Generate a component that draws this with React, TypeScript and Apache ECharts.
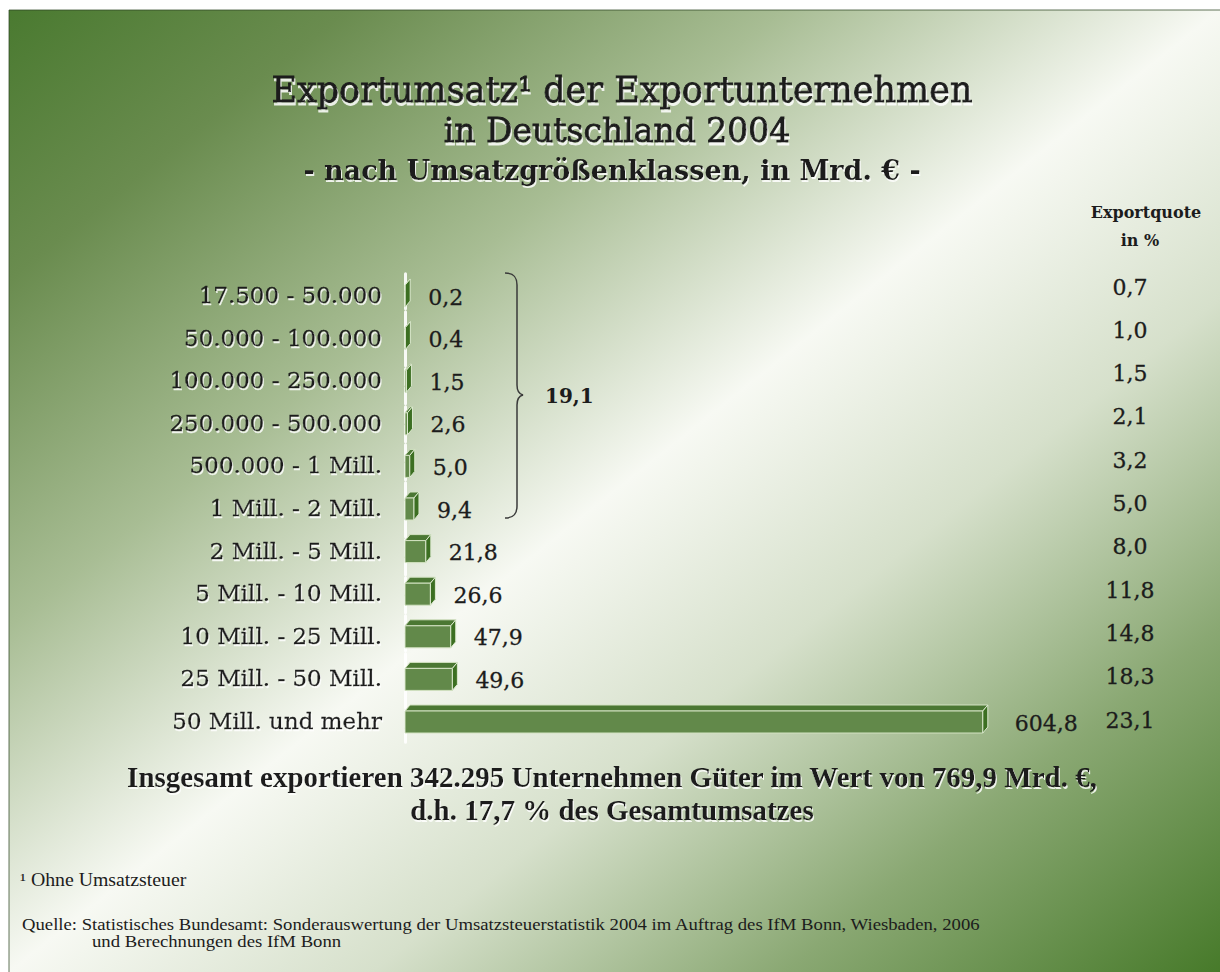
import React, { useEffect, useRef } from "react";
import * as echarts from "echarts";

// ---------- data ----------
const categories = [
  "17.500 - 50.000",
  "50.000 - 100.000",
  "100.000 - 250.000",
  "250.000 - 500.000",
  "500.000 - 1 Mill.",
  "1 Mill. - 2 Mill.",
  "2 Mill. - 5 Mill.",
  "5 Mill. - 10 Mill.",
  "10 Mill. - 25 Mill.",
  "25 Mill. - 50 Mill.",
  "50 Mill. und mehr",
];
const exportValues = [0.2, 0.4, 1.5, 2.6, 5.0, 9.4, 21.8, 26.6, 47.9, 49.6, 604.8];
const exportQuote = [0.7, 1.0, 1.5, 2.1, 3.2, 5.0, 8.0, 11.8, 14.8, 18.3, 23.1];
const bracketCount = 6;

const titleLines = ["Exportumsatz¹ der Exportunternehmen", "in Deutschland 2004"];
const subtitle = "- nach Umsatzgrößenklassen, in Mrd. € -";
const quoteHeader = ["Exportquote", "in %"];
const summaryLines = [
  "Insgesamt exportieren 342.295 Unternehmen Güter im Wert von 769,9 Mrd. €,",
  "d.h. 17,7 % des Gesamtumsatzes",
];
const footnote = "¹ Ohne Umsatzsteuer";
const sourceLines = [
  "Quelle: Statistisches Bundesamt: Sonderauswertung der Umsatzsteuerstatistik 2004 im Auftrag des IfM Bonn, Wiesbaden, 2006",
  "und Berechnungen des IfM Bonn",
];

const fmt = (v: number) => v.toFixed(1).replace(".", ",");

const SERIF = '"DejaVu Serif", serif';
const TIMES = '"Liberation Serif", serif';

echarts.graphic.registerShape(
  "brace",
  echarts.graphic.extendPath(
    "M0,0 C8,0 12,3 12,12 L12,112 C12,118 14,121 18,122 C14,123 12,126 12,132 L12,233 C12,242 8,245 0,245",
    {}
  ) as any
);

export default function App() {
  const ref = useRef<HTMLDivElement>(null);
  useEffect(() => {
    document.body.style.margin = "0";
    document.body.style.overflow = "hidden";
    const chart = echarts.init(ref.current!, null, { renderer: "svg" });

    const W = 1211, H = 962, ox = 9, oy = 10;
    const k = (W * H) / (W * W + H * H);
    const cx = ox + W / 2, cy = oy + H / 2;
    const bg = new echarts.graphic.LinearGradient(
      cx - k * H, cy - k * W, cx + k * H, cy + k * W,
      [
        { offset: 0, color: "#4a7a30" },
        { offset: 0.14, color: "#6a8c4f" },
        { offset: 0.32, color: "#a8bd94" },
        { offset: 0.5, color: "#f7f9f3" },
        { offset: 0.65, color: "#d6e0cb" },
        { offset: 0.82, color: "#8aa873" },
        { offset: 1, color: "#477a2a" },
      ],
      true
    );

    const sum = exportValues.slice(0, bracketCount).reduce((a, b) => a + b, 0);
    const shadow = {
      textShadowColor: "rgba(255,255,255,0.85)",
      textShadowOffsetX: 1,
      textShadowOffsetY: 2,
      textShadowBlur: 1,
    };
    const ink = "#1c1c1c";

    const option: any = {
      animation: false,
      grid: [
        { left: 405, top: 273.7, width: 578, height: 468.6 },
        { left: 405, top: 265.4, width: 578, height: 476.3 },
      ],
      xAxis: [
        { type: "value", gridIndex: 0, min: 0, max: 605, show: false },
        { type: "value", gridIndex: 1, min: 0, max: 605, show: false },
      ],
      yAxis: [
        {
          type: "category",
          gridIndex: 0,
          data: categories,
          inverse: true,
          axisLine: { show: true, lineStyle: { color: "rgba(255,255,255,0.9)", width: 3, type: [16, 3] } },
          axisTick: { show: false },
          splitLine: { show: false },
          axisLabel: {
            margin: 23,
            fontFamily: SERIF,
            fontSize: 23,
            color: ink,
            textBorderColor: ink,
            textBorderWidth: 0.3,
            ...shadow,
          },
        },
        {
          type: "category",
          gridIndex: 1,
          position: "right",
          data: exportQuote.map(fmt),
          inverse: true,
          axisLine: { show: false },
          axisTick: { show: false },
          splitLine: { show: false },
          axisLabel: {
            margin: 147,
            align: "center",
            fontFamily: SERIF,
            fontSize: 22,
            color: ink,
            textBorderColor: ink,
            textBorderWidth: 0.3,
          },
        },
      ],
      series: [
        {
          type: "custom",
          xAxisIndex: 0,
          yAxisIndex: 0,
          data: exportValues.map((v, i) => [v, i]),
          encode: { x: 0, y: 1 },
          z: 5,
          renderItem: (params: any, api: any) => {
            const v = api.value(0);
            const idx = api.value(1);
            const p0 = api.coord([0, idx]);
            const p1 = api.coord([v, idx]);
            const x0 = p0[0];
            const x1 = p1[0];
            const yc = p0[1];
            const dx = 5, dy = 6, h = 22;
            const top = yc - 10;
            return {
              type: "group",
              children: [
                {
                  type: "polygon",
                  shape: { points: [[x0, top], [x0 + dx, top - dy], [x1 + dx, top - dy], [x1, top]] },
                  style: { fill: "#4b7733", stroke: "#d3e2c2", lineWidth: 1 },
                },
                {
                  type: "rect",
                  shape: { x: x0, y: top, width: x1 - x0, height: h },
                  style: { fill: "#62894a", stroke: "#d3e2c2", lineWidth: 1 },
                },
                {
                  type: "polygon",
                  shape: { points: [[x1, top], [x1 + dx, top - dy], [x1 + dx, top + h - dy], [x1, top + h]] },
                  style: { fill: "#3c6f22", stroke: "#dce9cf", lineWidth: 1 },
                },
                {
                  type: "text",
                  style: {
                    text: fmt(v),
                    x: x1 + dx + (v > 100 ? 27 : 18),
                    y: yc + 2,
                    fill: ink,
                    stroke: ink,
                    lineWidth: 0.3,
                    font: `22px ${SERIF}`,
                    verticalAlign: "middle",
                    align: "left",
                  },
                },
              ],
            };
          },
        },
      ],
      graphic: [
        {
          type: "rect",
          z: -10,
          shape: { x: ox, y: oy, width: W + 2, height: H + 2 },
          style: { fill: bg, stroke: "rgba(45,70,35,0.75)", lineWidth: 1 },
        },
        {
          type: "text",
          z: 10,
          x: 622,
          y: 90,
          style: {
            text: titleLines[0],
            font: `35px ${SERIF}`,
            fill: ink,
            stroke: ink,
            lineWidth: 0.8,
            align: "center",
            verticalAlign: "middle",
            ...shadow,
            textShadowOffsetY: 3,
          },
        },
        {
          type: "text",
          z: 10,
          x: 617,
          y: 130,
          style: {
            text: titleLines[1],
            font: `33px ${SERIF}`,
            fill: ink,
            stroke: ink,
            lineWidth: 0.8,
            align: "center",
            verticalAlign: "middle",
            ...shadow,
            textShadowOffsetY: 3,
          },
        },
        {
          type: "text",
          z: 10,
          x: 612,
          y: 170,
          style: {
            text: subtitle,
            font: `bold 27px ${SERIF}`,
            fill: ink,
            align: "center",
            verticalAlign: "middle",
            ...shadow,
          },
        },
        {
          type: "text",
          z: 10,
          x: 1146,
          y: 212,
          style: {
            text: quoteHeader[0],
            font: `bold 16px ${SERIF}`,
            fill: ink,
            align: "center",
            verticalAlign: "middle",
          },
        },
        {
          type: "text",
          z: 10,
          x: 1140,
          y: 240,
          style: {
            text: quoteHeader[1],
            font: `bold 16px ${SERIF}`,
            fill: ink,
            align: "center",
            verticalAlign: "middle",
          },
        },
        {
          type: "brace",
          z: 10,
          x: 505,
          y: 273,
          style: { fill: "none", stroke: "#3a3a3a", lineWidth: 1.5 },
        },
        {
          type: "text",
          z: 10,
          x: 545,
          y: 396,
          style: {
            text: fmt(sum),
            font: `bold 20px ${SERIF}`,
            fill: ink,
            align: "left",
            verticalAlign: "middle",
          },
        },
        {
          type: "text",
          z: 10,
          x: 612,
          y: 777,
          style: {
            text: summaryLines[0],
            font: `bold 29px ${TIMES}`,
            fill: ink,
            align: "center",
            verticalAlign: "middle",
            ...shadow,
          },
        },
        {
          type: "text",
          z: 10,
          x: 612,
          y: 810,
          style: {
            text: summaryLines[1],
            font: `bold 29px ${TIMES}`,
            fill: ink,
            align: "center",
            verticalAlign: "middle",
            ...shadow,
          },
        },
        {
          type: "text",
          z: 10,
          x: 20,
          y: 880,
          scaleX: 1.1,
          style: {
            text: footnote,
            font: `18px ${TIMES}`,
            fill: ink,
            align: "left",
            verticalAlign: "middle",
          },
        },
        {
          type: "text",
          z: 10,
          x: 22,
          y: 924,
          scaleX: 1.1,
          style: {
            text: sourceLines[0],
            font: `17px ${TIMES}`,
            fill: ink,
            align: "left",
            verticalAlign: "middle",
          },
        },
        {
          type: "text",
          z: 10,
          x: 92,
          y: 941,
          scaleX: 1.1,
          style: {
            text: sourceLines[1],
            font: `17px ${TIMES}`,
            fill: ink,
            align: "left",
            verticalAlign: "middle",
          },
        },
      ],
    };
    chart.setOption(option);
    return () => chart.dispose();
  }, []);
  return <div ref={ref} style={{ width: 1220, height: 972 }} />;
}
